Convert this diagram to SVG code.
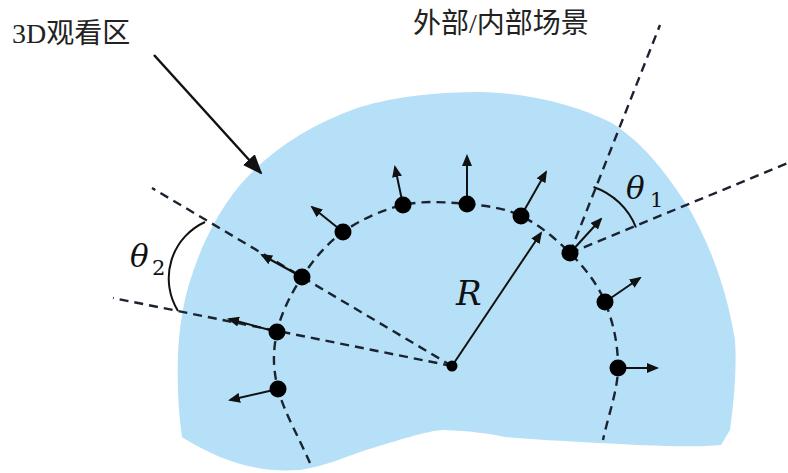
<svg xmlns="http://www.w3.org/2000/svg" width="788" height="473" viewBox="0 0 788 473">
  <defs>
    <marker id="ah" markerUnits="userSpaceOnUse" markerWidth="12" markerHeight="10" viewBox="0 0 12 10" refX="10" refY="5" orient="auto">
      <path d="M0,0 L12,5 L0,10 z" fill="#111"/>
    </marker>
    <marker id="ahBig" markerUnits="userSpaceOnUse" markerWidth="20" markerHeight="16" viewBox="0 0 20 16" refX="18" refY="8" orient="auto">
      <path d="M0,0 L20,8 L0,16 z" fill="#111"/>
    </marker>
  </defs>
  <style>
    .dash { fill: none; stroke: #1b2330; stroke-width: 2.4; stroke-dasharray: 9 6; }
    .arr { fill: none; stroke: #111; stroke-width: 2; marker-end: url(#ah); }
    .dot { fill: #000; }
    .lbl { font-family: "Liberation Serif", "Noto Sans CJK SC", serif; font-size: 28px; fill: #222; }
    .math { font-family: "DejaVu Serif", "Liberation Serif", serif; font-style: italic; fill: #111; }
    .sub { font-family: "DejaVu Serif", "Liberation Serif", serif; font-style: normal; font-size: 21px; fill: #111; }
    .arc { fill: none; stroke: #111; stroke-width: 2; }
  </style>
  <rect width="788" height="473" fill="#fff"/>

  <g id="viewing-zone">
    <path d="M182,437 C178,410 177,380 178,355 C179,330 183,300 192,275 C200,250 215,215 240,185 C270,150 310,125 357,108 C400,95 440,92 480,92 C530,93 575,105 610,122 C640,140 665,170 690,210 C710,245 727,290 735,340 C737,370 734,400 730,430 L721,445 C690,448 640,445 599,443 C560,441 530,439 505,437 C485,433 470,431 444,430 C425,431 400,440 366,450 C340,459 325,466 300,470 C270,472 245,467 220,457 C205,450 192,444 182,437 Z" fill="#b6e0f7"/>
  </g>

  <g id="labels">
    <text class="lbl" x="12" y="43">3D观看区</text>
    <text class="lbl" x="413" y="33">外部/内部场景</text>
    <text class="math" x="456" y="305" font-size="34">R</text>
    <text class="math" x="626" y="199" font-size="31">θ</text>
    <text class="sub" x="650" y="207">1</text>
    <text class="math" x="130" y="267" font-size="31">θ</text>
    <text class="sub" x="152" y="275">2</text>
  </g>

  <g id="connectors">
    <path class="dash" d="M310,463 C299.3,438.3 283.5,410.8 278,389 C272.5,367.2 273,350.7 277,332 C281,313.3 291,293.7 302,277 C313,260.3 326.2,244 343,232 C359.8,220 382.3,209.7 403,205 C423.7,200.3 447.3,202.2 467,204 C486.7,205.8 503.8,207.8 521,216 C538.2,224.2 556,238.7 570,253 C584,267.3 597,282.8 605,302 C613,321.2 618.3,345 618,368 C617.7,391 608,416 603,440"/>
    <line class="dash" x1="570" y1="253" x2="660" y2="25"/>
    <line class="dash" x1="570" y1="253" x2="788" y2="163"/>
    <line class="dash" x1="452" y1="366" x2="152" y2="188"/>
    <line class="dash" x1="452" y1="366" x2="113" y2="298"/>
    <path class="arc" d="M593.5,187 A70,70 0 0,1 636,227.5"/>
    <path class="arc" d="M205,222 A62,62 0 0,0 178,311"/>
    <line x1="154" y1="55" x2="261" y2="173" stroke="#111" stroke-width="2.5" marker-end="url(#ahBig)"/>
    <line class="arr" x1="452" y1="366" x2="541" y2="233"/>
    <line class="arr" x1="278" y1="389" x2="230" y2="400"/>
    <line class="arr" x1="277" y1="332" x2="229" y2="319"/>
    <line class="arr" x1="302" y1="277" x2="262" y2="255"/>
    <line class="arr" x1="343" y1="232" x2="312" y2="207"/>
    <line class="arr" x1="403" y1="205" x2="395" y2="167"/>
    <line class="arr" x1="467" y1="204" x2="467" y2="156"/>
    <line class="arr" x1="521" y1="216" x2="546" y2="172"/>
    <line class="arr" x1="570" y1="253" x2="601" y2="219"/>
    <line class="arr" x1="605" y1="302" x2="640" y2="278"/>
    <line class="arr" x1="618" y1="368" x2="657" y2="368"/>
  </g>

  <g id="center"><circle class="dot" cx="452" cy="366" r="5.5"/></g>
  <g id="p1"><circle class="dot" cx="278" cy="389" r="8.5"/></g>
  <g id="p2"><circle class="dot" cx="277" cy="332" r="8.5"/></g>
  <g id="p3"><circle class="dot" cx="302" cy="277" r="8.5"/></g>
  <g id="p4"><circle class="dot" cx="343" cy="232" r="8.5"/></g>
  <g id="p5"><circle class="dot" cx="403" cy="205" r="8.5"/></g>
  <g id="p6"><circle class="dot" cx="467" cy="204" r="8.5"/></g>
  <g id="p7"><circle class="dot" cx="521" cy="216" r="8.5"/></g>
  <g id="p8"><circle class="dot" cx="570" cy="253" r="8.5"/></g>
  <g id="p9"><circle class="dot" cx="605" cy="302" r="8.5"/></g>
  <g id="p10"><circle class="dot" cx="618" cy="368" r="8.5"/></g>
</svg>
